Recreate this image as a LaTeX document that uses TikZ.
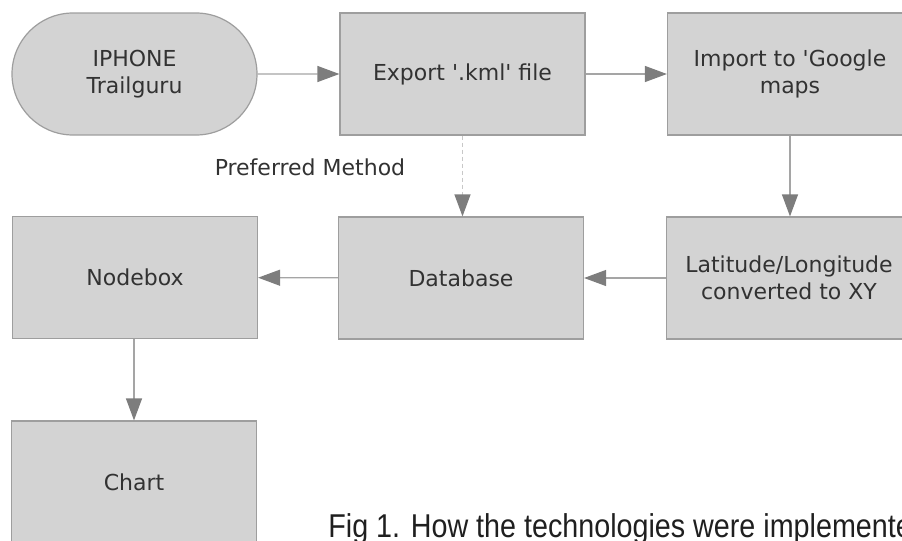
\documentclass[tikz,border=0pt]{standalone}
\usepackage{fontspec}
\setmainfont{DejaVu Sans}
\newfontfamily\capfont[FakeStretch=0.87]{Liberation Sans}
\usepackage{xcolor}
\usepackage{tikz}
\usetikzlibrary{positioning,arrows.meta,shapes.misc}
\definecolor{boxfill}{RGB}{211,211,211}
\definecolor{boxline}{RGB}{158,158,158}
\definecolor{boxtext}{RGB}{50,50,50}
\definecolor{wiregray}{RGB}{165,165,165}
\definecolor{tipgray}{RGB}{125,125,125}
\definecolor{dashgray}{RGB}{200,200,200}
\tikzset{
  flowbox/.style={
     rectangle,
     draw=boxline,
     fill=boxfill,
     line width=0.6pt,
     minimum width=122.5pt,
     minimum height=61pt,
     inner sep=0pt,
     align=center,
     text=boxtext,
     font=\fontsize{11}{13.5}\selectfont
  },
  flowend/.style={
     flowbox,
     rounded rectangle
  },
  flowwire/.style={
     draw=wiregray,
     line width=0.6pt,
     -{Triangle[length=11pt,width=8pt,color=tipgray]}
  },
  prefwire/.style={
     flowwire,
     draw=dashgray,
     dash pattern=on 2pt off 1.5pt
  },
}

\begin{document}
\begin{tikzpicture}[x=0.5pt, y=-0.5pt]
  \useasboundingbox (0,0) rectangle (902,541);
  \clip (0,0) rectangle (902,541);

  % Boxes
  \node[flowend] (phone) at (134.5,74) {IPHONE\\Trailguru};
  \node[flowbox] (export) at (462.5,74) {Export \textquotesingle.kml\textquotesingle{} file};
  \node[flowbox] (google) at (790,74) {Import to \textquotesingle Google\\maps};
  \node[flowbox] (latlon) at (789,278) {Latitude/Longitude\\converted to XY};
  \node[flowbox] (database) at (461,278) {Database};
  \node[flowbox] (nodebox) at (135,277.5) {Nodebox};
  \node[flowbox] (chart) at (134,482) {Chart};

  % Wires
  \draw[flowwire] (phone) -- (export);
  \draw[flowwire] (export) -- (google);
  \draw[flowwire] (google.south) -- (google.south |- latlon.north);
  \draw[prefwire] (export) -- (export.south |- database.north);
  \draw[flowwire] (latlon) -- (database);
  \draw[flowwire] (database) -- (nodebox);
  \draw[flowwire] (nodebox.south -| chart.north) -- (chart);

  % Labels
  \node[text=boxtext, font=\fontsize{11}{13.5}\selectfont] (preferred) at (310,167) {Preferred Method};
  \node[anchor=base west, inner sep=0pt, text=black!88, font=\capfont\fontsize{16.5}{19}\selectfont] (caption) at (328,537) {Fig 1. How the technologies were implemented};
\end{tikzpicture}
\end{document}
